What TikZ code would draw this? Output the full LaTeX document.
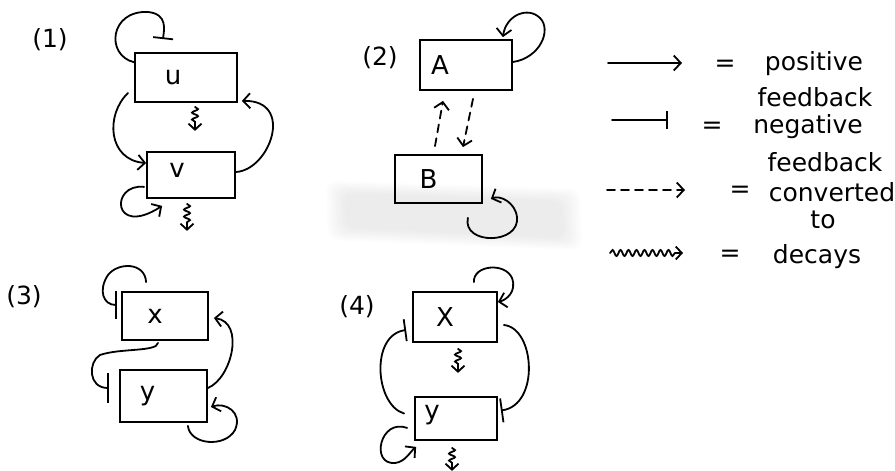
\documentclass[tikz,border=0pt]{standalone}
\usepackage{fontspec}
\setmainfont{DejaVu Sans}
\usetikzlibrary{arrows.meta,decorations.pathmorphing,calc}
\begin{document}
\begin{tikzpicture}[x=1pt,y=-1pt, line width=1.8pt, line cap=round,
  sbox/.style={draw, rectangle, inner sep=0pt},
  boxtext/.style={font=\fontsize{26}{28}\selectfont, inner sep=0pt},
  lbl/.style={font=\fontsize{25}{27}\selectfont, inner sep=0pt},
  posarrow/.style={-{Straight Barb[length=7pt,width=15pt]}},
  negarrow/.style={-{Bar[width=#1]}},
  negarrow/.default=20pt,
  convarrow/.style={dash pattern=on 8pt off 6pt, -{Straight Barb[length=7pt,width=15pt]}},
  decayarrow/.style={decorate, decoration={snake, amplitude=3pt, segment length=7pt, post length=6pt}, -{Straight Barb[length=6pt,width=13pt]}},
]
\useasboundingbox (0,0) rectangle (895,471);

% grey scan shading around B
\foreach \i in {0,...,6}
  \fill[gray, opacity=0.025, rounded corners=10pt] (326+\i*3, 181+\i*2) -- (580-\i*3, 189+\i*2) -- (582-\i*3, 250-\i*2) -- (328+\i*3, 240-\i*2) -- cycle;

% ---------- (1) ----------
\node[lbl] (l1) at (50,40) {(1)};
\node[sbox, minimum width=102pt, minimum height=49pt,
  label={[boxtext,xshift=-13pt]center:u}] (u) at (186,77.5) {};
\node[sbox, minimum width=88pt, minimum height=46pt,
  label={[boxtext,xshift=-14pt,yshift=5pt]center:v}] (v) at (191,175) {};

\draw[negarrow] ($(u.north west)!0.2!(u.south west)$)
  .. controls (105,55) and (110,10) .. (148,12)
  .. controls (168,14) and (164,30) .. ($(u.north)+(-23,-13)$);
\draw[posarrow] ($(u.south west)+(-6,-10)$)
  .. controls (105,115) and (108,160) .. ($(v.north west)!0.25!(v.south west)$);
\draw[posarrow] ($(v.east)+(0,-3)$)
  .. controls (270,170) and (295,100) .. ($(u.south east)+(4,-2)$);
\draw[posarrow] ($(v.south west)+(-2,-12)$)
  .. controls (110,183) and (112,238) .. ($(v.south west)+(16,7)$);
\draw[decayarrow] ($(u.south)+(9,4)$) -- ($(u.south)+(9,28)$);
\draw[decayarrow] ($(v.south)+(-4,5)$) -- ($(v.south)+(-4,32)$);

% ---------- (2) ----------
\node[lbl] (l2) at (380,58) {(2)};
\node[sbox, minimum width=92pt, minimum height=50pt,
  label={[boxtext,xshift=-26pt]center:A}] (A) at (466,65) {};
\node[sbox, minimum width=87pt, minimum height=48pt,
  label={[boxtext,xshift=-10pt]center:B}] (B) at (438.5,179) {};

\draw[posarrow] ($(A.east)+(0,-3)$)
  .. controls (540,58) and (552,30) .. (540,18)
  .. controls (528,6) and (506,15) .. ($(A.north east)+(-10,-2)$);
\draw[convarrow] ($(B.north)+(-3.5,-8)$) -- ($(A.south)+(-23,10)$);
\draw[convarrow] ($(A.south)+(7,8)$) -- ($(B.north)+(24.5,-7)$);
\draw[posarrow] ($(B.south east)+(-15,14)$)
  .. controls (462,245) and (520,245) .. (517,217)
  .. controls (515,202) and (500,195) .. ($(B.south east)+(8,-5)$);

% ---------- legend ----------
\coordinate (p1) at (608,63);  \coordinate (p2) at (682,63);
\coordinate (n1) at (612,120); \coordinate (n2) at (668,120);
\coordinate (c1) at (607,190); \coordinate (c2) at (685,190);
\coordinate (d1) at (610,253); \coordinate (d2) at (683,253);
\draw[posarrow] (p1) -- (p2);
\draw[negarrow=18pt] (n1) -- (n2);
\draw[convarrow] (c1) -- (c2);
\draw[decayarrow, decoration={snake, amplitude=3pt, segment length=8pt, post length=7pt}] (d1) -- (d2);

\node[lbl] (e1) at (725,66) {=};
\node[lbl] (t1) at (814,64) {positive};
\node[lbl] (t1b) at (815,97) {feedback};
\node[lbl] (e2) at (712,128) {=};
\node[lbl] (t2) at (808,127) {negative};
\node[lbl] (t2b) at (825,162) {feedback};
\node[lbl] (e3) at (740,192) {=};
\node[lbl] (t3) at (832,192) {converted};
\node[lbl] (t3b) at (823,220) {to};
\node[lbl] (e4) at (730,256) {=};
\node[lbl] (t4) at (817,257) {decays};

% ---------- (3) ----------
\node[lbl] (l3) at (24,297) {(3)};
\node[sbox, minimum width=86pt, minimum height=48pt,
  label={[boxtext,xshift=-10pt]center:x}] (X3) at (165,316) {};
\node[sbox, minimum width=87pt, minimum height=52pt,
  label={[boxtext,xshift=-16pt]center:y}] (Y3) at (163.5,396) {};

\draw[negarrow=28pt] ($(X3.north west)+(25,-9)$)
  .. controls (145,262) and (118,262) .. (108,275)
  .. controls (98,290) and (103,305) .. ($(X3.west)+(-4,-11)$);
\draw[negarrow=30pt] ($(X3.south)+(-7,2)$)
  .. controls (157,352) and (120,348) .. (100,355)
  .. controls (88,362) and (88,388) .. ($(Y3.west)+(-10,-8)$);
\draw[posarrow] ($(Y3.east)+(0,-8)$)
  .. controls (232,378) and (245,322) .. ($(X3.east)+(5,2)$);
\draw[posarrow] ($(Y3.south east)+(-20,3)$)
  .. controls (190,445) and (225,448) .. (235,430)
  .. controls (243,412) and (225,402) .. ($(Y3.east)+(3,11)$);

% ---------- (4) ----------
\node[lbl] (l4) at (357,307) {(4)};
\node[sbox, minimum width=84pt, minimum height=50pt,
  label={[boxtext,xshift=-10pt]center:X}] (X4) at (455,317) {};
\node[sbox, minimum width=82pt, minimum height=43pt,
  label={[boxtext,xshift=-24pt,yshift=3pt]center:y}] (Y4) at (456,418.5) {};

\draw[posarrow] ($(X4.north east)+(-24,-9)$)
  .. controls (473,265) and (505,262) .. (512,278)
  .. controls (517,292) and (506,300) .. ($(X4.east)+(0,-15)$);
\draw[decayarrow] ($(X4.south)+(3,6)$) -- ($(X4.south)+(3,30)$);
\draw[negarrow=24pt] ($(X4.east)+(6,8)$)
  .. controls (535,328) and (540,405) .. ($(Y4.east)+(3,-8)$);
\draw[negarrow=22pt] ($(Y4.west)+(-10,-5)$)
  .. controls (375,405) and (370,335) .. ($(X4.west)+(-6,13)$);
\draw[posarrow] ($(Y4.south west)+(-7,-13)$)
  .. controls (380,418) and (370,465) .. (395,463)
  .. controls (405,462) and (410,452) .. ($(Y4.south west)+(2,6)$);
\draw[decayarrow] ($(Y4.south)+(-4,7)$) -- ($(Y4.south)+(-4,30)$);
\end{tikzpicture}
\end{document}
